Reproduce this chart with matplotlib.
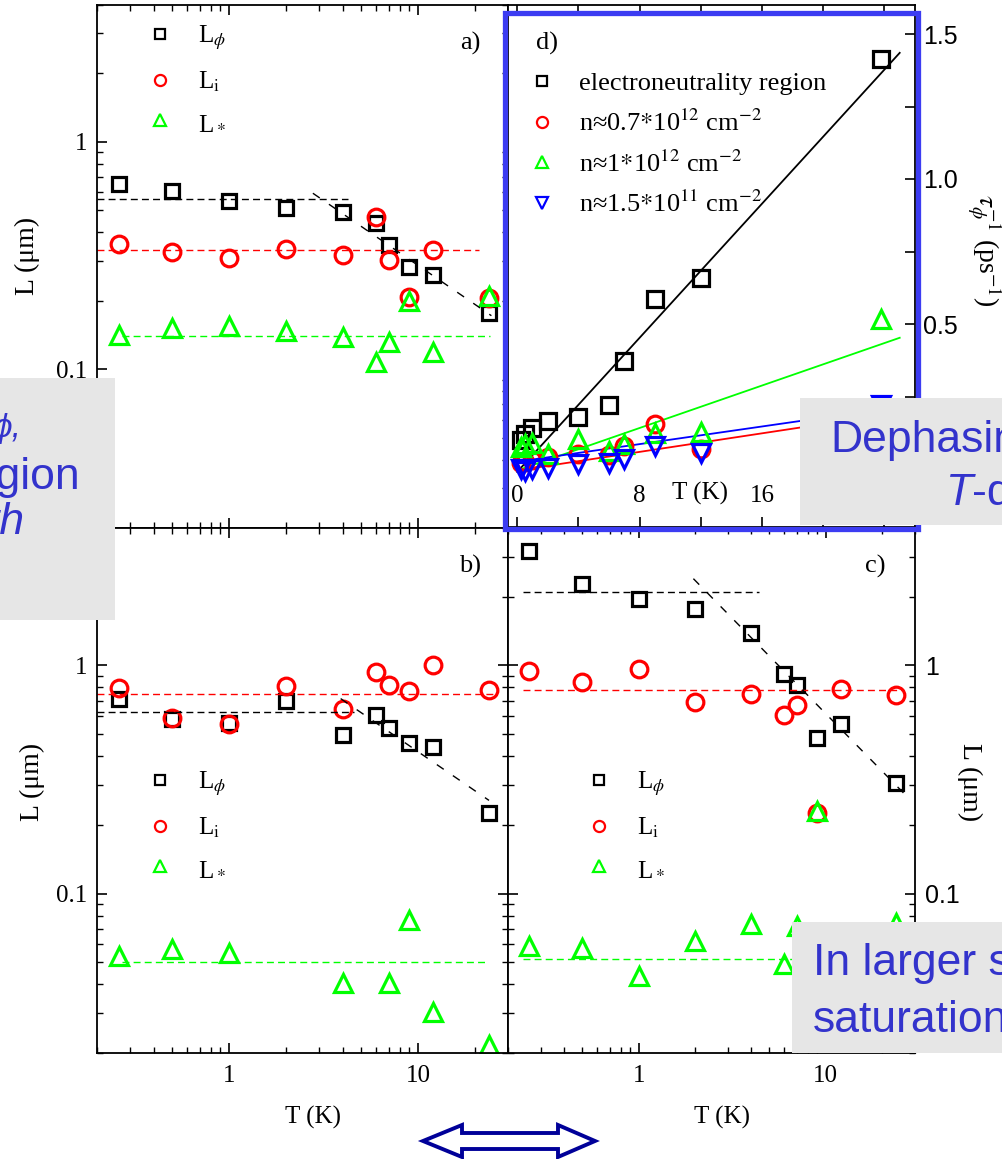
import numpy as np
import matplotlib.pyplot as plt
from matplotlib import ticker
from matplotlib.lines import Line2D
from matplotlib.patches import Rectangle, Polygon

plt.rcParams['font.family'] = ['Liberation Serif', 'DejaVu Serif']
plt.rcParams['mathtext.fontset'] = 'stix'

# temperatures (K), same set in every panel
T = [0.26, 0.5, 1, 2, 4, 6, 7, 9, 12, 23.8]

# panel a) lengths (um)
Lphi_a = [0.65, 0.61, 0.55, 0.51, 0.49, 0.44, 0.35, 0.28, 0.26, 0.177]
Li_a = [0.355, 0.326, 0.307, 0.337, 0.317, 0.467, 0.303, 0.207, 0.335, 0.205]
Ls_a = [0.141, 0.152, 0.155, 0.147, 0.138, 0.107, 0.132, 0.20, 0.119, 0.209]

# panel b)
Lphi_b = [0.715, 0.584, 0.561, 0.695, 0.497, 0.604, 0.532, 0.458, 0.437, 0.226]
Li_b = [0.796, 0.588, 0.555, 0.809, 0.641, 0.935, 0.823, 0.772, 1.0, 0.777]
Ls_b = [0.0533, 0.0569, 0.0546, np.nan, 0.0406, np.nan, 0.0404, 0.0764, 0.0303, 0.0216]

# panel c)
Lphi_c = [3.17, 2.28, 1.95, 1.76, 1.39, 0.918, 0.817, 0.481, 0.554, 0.305]
Li_c = [0.944, 0.845, 0.966, 0.690, 0.750, 0.603, 0.667, 0.226, 0.789, 0.743]
Ls_c = [0.0587, 0.0577, 0.0437, 0.0621, 0.0735, 0.0491, 0.0719, 0.230, 0.060, 0.0743]

# dashed guides: saturation levels (value, Tmin, Tmax) and power laws (A, p, Tmin, Tmax)
phi_sat_a, phi_pow_a, i_sat_a, s_sat_a = (0.558, 0.2, 4.25), (1.064, -0.57, 2.78, 24.5), (0.336, 0.2, 21), (0.140, 0.27, 24)
phi_sat_b, phi_pow_b, i_sat_b, s_sat_b = (0.625, 0.2, 4.6), (1.549, -0.568, 3.9, 23.8), (0.751, 0.2, 26), (0.0502, 0.27, 23.5)
phi_sat_c, phi_pow_c, i_sat_c, s_sat_c = (2.10, 0.24, 4.4), (4.21, -0.836, 1.96, 27.5), (0.781, 0.24, 25.8), (0.0518, 0.24, 25)

# panel d) inverse dephasing time (1/ps)
tau_en = [0.10, 0.12, 0.14, 0.165, 0.18, 0.22, 0.372, 0.586, 0.659, 1.414]
tau_07 = [0.02, 0.025, 0.03, 0.04, 0.052, 0.05, 0.079, 0.154, 0.068, 0.20]
tau_1 = [0.075, 0.085, 0.09, 0.053, 0.102, 0.062, 0.087, 0.125, 0.129, 0.517]
tau_015 = [0.0, -0.007, 0.0, 0.002, 0.016, 0.022, 0.034, 0.079, 0.056, 0.22]
# linear fits (intercept, slope)
fit_en = (-0.01, 0.0578)
fit_07 = (-0.005, 0.0080)
fit_1 = (-0.005, 0.0183)
fit_015 = (0.025, 0.0076)
labels_d = ['electroneutrality region', 'n\u22480.7$*$10$^{12}$ cm$^{-2}$',
            'n\u22481$*$10$^{12}$ cm$^{-2}$', 'n\u22481.5$*$10$^{11}$ cm$^{-2}$']

GREEN = '#00ff00'
W, H = 1003, 1159
fig = plt.figure(figsize=(W / 100, H / 100), dpi=100)


def px_axes(x0, y0, x1, y1):
    return fig.add_axes([x0 / W, 1 - y1 / H, (x1 - x0) / W, (y1 - y0) / H])


def setup_log(ax):
    ax.set_xscale('log')
    ax.set_yscale('log')
    ax.set_xlim(0.2, 30)
    ax.set_ylim(0.02, 4)
    ax.set_xticks([1, 10], labels=['1', '10'])
    ax.set_yticks([0.1, 1], labels=['0.1', '1'])
    ax.xaxis.set_minor_locator(ticker.LogLocator(base=10, subs=np.arange(2, 10), numticks=20))
    ax.yaxis.set_minor_locator(ticker.LogLocator(base=10, subs=np.arange(2, 10), numticks=20))
    ax.xaxis.set_minor_formatter(ticker.NullFormatter())
    ax.yaxis.set_minor_formatter(ticker.NullFormatter())
    ax.tick_params(which='both', direction='in', top=True, right=True, labelsize=18)
    ax.tick_params(which='major', length=7, width=1.2)
    ax.tick_params(which='minor', length=4, width=1)
    ax.tick_params(axis='x', pad=9)
    ax.tick_params(axis='y', pad=7)
    for s in ax.spines.values():
        s.set_linewidth(1.3)


def draw_L(ax, Lphi, Li, Ls, phi_sat, phi_pow, i_sat, s_sat):
    ax.plot(T, Lphi, 's', mfc='none', mec='k', mew=2.3, ms=10)
    ax.plot(T, Li, 'o', mfc='none', mec='red', mew=2.3, ms=12)
    ax.plot(T, Ls, '^', mfc='none', mec=GREEN, mew=2.3, ms=13)
    for (v, t0, t1), c in [(phi_sat, 'k'), (i_sat, 'red'), (s_sat, GREEN)]:
        ax.plot([t0, t1], [v, v], color=c, lw=1, dashes=(5, 3))
    A, p, t0, t1 = phi_pow
    t = np.geomspace(t0, t1, 50)
    ax.plot(t, A * t ** p, color='k', lw=1, dashes=(6, 8))


def L_legend(ax, x, y):
    h = [Line2D([], [], ls='none', marker='s', mfc='none', mec='k', mew=1.6, ms=7),
         Line2D([], [], ls='none', marker='o', mfc='none', mec='red', mew=1.6, ms=8),
         Line2D([], [], ls='none', marker='^', mfc='none', mec=GREEN, mew=1.6, ms=9)]
    ax.legend(h, [r'L$_\phi$', r'L$_\mathrm{i}$', r'L$_*$'], loc='upper left',
              bbox_to_anchor=(x, y), frameon=False, fontsize=18, handlelength=1.0,
              handletextpad=1.0, labelspacing=0.7, borderpad=0, borderaxespad=0)


# a)
ax_a = px_axes(97, 5, 508, 528)
setup_log(ax_a)
ax_a.tick_params(labelbottom=False, right=False)
draw_L(ax_a, Lphi_a, Li_a, Ls_a, phi_sat_a, phi_pow_a, i_sat_a, s_sat_a)
L_legend(ax_a, 0.123, 0.965)
ax_a.text(0.908, 0.927, 'a)', transform=ax_a.transAxes, fontsize=19, ha='center', va='center')
ax_a.set_ylabel('L (\u03bcm)', fontsize=20, va='center')
ax_a.yaxis.set_label_coords(-0.17, 0.52)

# b)
ax_b = px_axes(97, 528, 508, 1053)
setup_log(ax_b)
draw_L(ax_b, Lphi_b, Li_b, Ls_b, phi_sat_b, phi_pow_b, i_sat_b, s_sat_b)
L_legend(ax_b, 0.123, 0.54)
ax_b.text(0.908, 0.926, 'b)', transform=ax_b.transAxes, fontsize=19, ha='center', va='center')
ax_b.set_ylabel('L (\u03bcm)', fontsize=20, va='center')
ax_b.yaxis.set_label_coords(-0.158, 0.516)
ax_b.set_xlabel('T (K)', fontsize=18)
ax_b.xaxis.set_label_coords(0.525, -0.1)

# c)
ax_c = px_axes(508, 528, 915, 1053)
setup_log(ax_c)
ax_c.tick_params(axis='y', labelleft=False, labelright=True)
for lab in ax_c.get_yticklabels():
    lab.set_fontfamily('Liberation Sans')
draw_L(ax_c, Lphi_c, Li_c, Ls_c, phi_sat_c, phi_pow_c, i_sat_c, s_sat_c)
L_legend(ax_c, 0.193, 0.54)
ax_c.text(0.902, 0.926, 'c)', transform=ax_c.transAxes, fontsize=19, ha='center', va='center')
ax_c.yaxis.set_label_position('right')
ax_c.set_ylabel('L (\u03bcm)', fontsize=20, rotation=270, va='center', ha='center')
ax_c.yaxis.set_label_coords(1.135, 0.516)
ax_c.set_xlabel('T (K)', fontsize=18)
ax_c.xaxis.set_label_coords(0.525, -0.1)

# d)
ax_d = px_axes(508, 5, 915, 527)
ax_d.set_xlim(-0.6, 26)
ax_d.set_ylim(-0.2, 1.6)
tgrid = np.linspace(0, 25, 20)
for (b0, k), c in [(fit_en, 'k'), (fit_1, GREEN), (fit_015, 'blue'), (fit_07, 'red')]:
    ax_d.plot(tgrid, b0 + k * tgrid, color=c, lw=1.3)
ax_d.plot(T, tau_en, 's', mfc='none', mec='k', mew=2.3, ms=11)
ax_d.plot(T, tau_07, 'o', mfc='none', mec='red', mew=2.3, ms=12)
ax_d.plot(T, tau_1, '^', mfc='none', mec=GREEN, mew=2.3, ms=13)
ax_d.plot(T, tau_015, 'v', mfc='none', mec='blue', mew=2.3, ms=13)
hd = [Line2D([], [], ls='none', marker='s', mfc='none', mec='k', mew=1.6, ms=7),
      Line2D([], [], ls='none', marker='o', mfc='none', mec='red', mew=1.6, ms=8),
      Line2D([], [], ls='none', marker='^', mfc='none', mec=GREEN, mew=1.6, ms=9),
      Line2D([], [], ls='none', marker='v', mfc='none', mec='blue', mew=1.6, ms=9)]
ax_d.legend(hd, labels_d, loc='upper left', bbox_to_anchor=(0.055, 0.872), frameon=False,
            fontsize=19, handlelength=0.9, handletextpad=0.95, labelspacing=0.55,
            borderpad=0, borderaxespad=0)
ax_d.text(0.096, 0.927, 'd)', transform=ax_d.transAxes, fontsize=19, ha='center', va='center')
ax_d.set_xticks([0, 8, 16, 24], labels=['0', '8', '16', '24'])
ax_d.xaxis.set_minor_locator(ticker.MultipleLocator(4))
ax_d.yaxis.tick_right()
ax_d.set_yticks([0.5, 1.0, 1.5], labels=['0.5', '1.0', '1.5'], fontfamily='Liberation Sans')
ax_d.yaxis.set_minor_locator(ticker.MultipleLocator(0.25))
ax_d.tick_params(which='both', direction='in', top=True, labelsize=18)
ax_d.tick_params(which='major', length=7, width=1.2)
ax_d.tick_params(which='minor', length=7, width=1.2)
ax_d.tick_params(axis='x', pad=-30)
ax_d.tick_params(axis='y', pad=6)
ax_d.text(0.472, 0.065, 'T (K)', transform=ax_d.transAxes, fontsize=18, ha='center', va='center')
ax_d.yaxis.set_label_position('right')
ax_d.set_ylabel(r'$\tau_\phi^{-1}$ (ps$^{-1}$)', fontsize=20, rotation=270, va='center', ha='center')
ax_d.yaxis.set_label_coords(1.17, 0.53)
for s in ax_d.spines.values():
    s.set_linewidth(1.3)

# slide overlays
tf = fig.transFigure
fig.add_artist(Rectangle((505 / W, 1 - 529 / H), 413 / W, 516 / H, transform=tf, fill=False,
                         ec='#3c3cf2', lw=3.8, zorder=10))
for x0, y0, x1, y1 in [(0, 378, 115, 620), (800, 398, 1003, 525), (792, 922, 1003, 1053)]:
    fig.add_artist(Rectangle((x0 / W, 1 - y1 / H), (x1 - x0) / W, (y1 - y0) / H, transform=tf,
                             fc='#e6e6e6', ec='none', zorder=11))
BL = '#3333cc'
sans = dict(family='Liberation Sans', color=BL, zorder=12, va='baseline')
fig.text(22 / W, 1 - 437 / H, '\u03d5,', fontsize=24, style='italic', ha='right', **sans)
fig.text(80 / W, 1 - 489 / H, 'region', fontsize=32, ha='right', **sans)
fig.text(25 / W, 1 - 534 / H, 'with', fontsize=32, style='italic', ha='right', **sans)
fig.text(830 / W, 1 - 452 / H, 'Dephasing', fontsize=32, ha='left', **sans)
fig.text(946 / W, 1 - 505 / H, 'T', fontsize=32, style='italic', ha='left', **sans)
fig.text(972 / W, 1 - 505 / H, '-dependence', fontsize=32, ha='left', **sans)
fig.text(813 / W, 1 - 975 / H, 'In larger samples', fontsize=32, ha='left', **sans)
fig.text(813 / W, 1 - 1032 / H, 'saturation', fontsize=32, ha='left', **sans)

arrow_px = [(423, 1141), (462, 1125), (462, 1133), (558, 1133), (558, 1125), (595, 1141),
            (558, 1157), (558, 1149), (462, 1149), (462, 1157)]
fig.add_artist(Polygon([(x / W, 1 - y / H) for x, y in arrow_px], closed=True, transform=tf,
                       fc='white', ec='#000099', lw=2.8, zorder=12))

fig.savefig('out.png', dpi=100)
